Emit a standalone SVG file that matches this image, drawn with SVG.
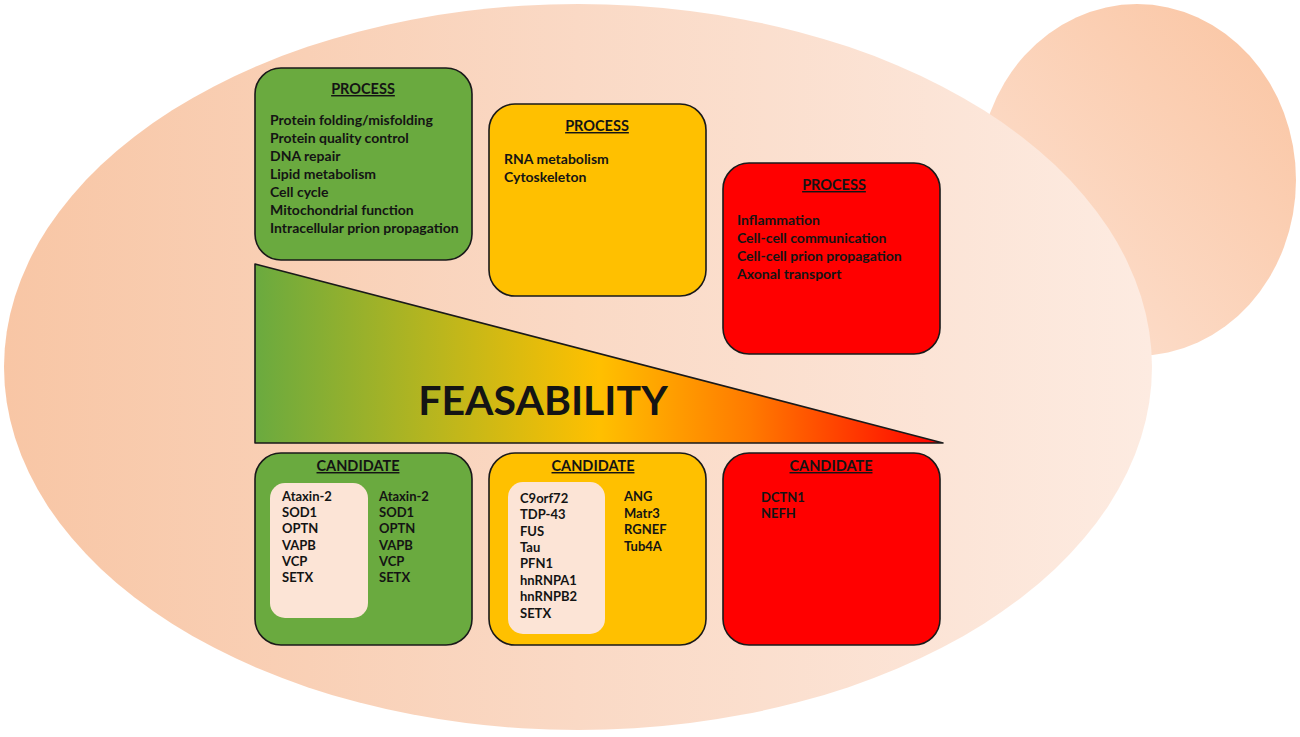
<svg xmlns="http://www.w3.org/2000/svg" width="1300" height="737" viewBox="0 0 1300 737">
<defs>
<linearGradient id="gEll" x1="0" y1="0" x2="1" y2="0">
<stop offset="0" stop-color="#F8C6A5"/>
<stop offset="0.5" stop-color="#FAD9C5"/>
<stop offset="1" stop-color="#FDEBE1"/>
</linearGradient>
<linearGradient id="gCirc" x1="1" y1="0" x2="0" y2="1">
<stop offset="0" stop-color="#FAC4A1"/>
<stop offset="1" stop-color="#FDE3D4"/>
</linearGradient>
<linearGradient id="gTri" x1="255" y1="0" x2="943" y2="0" gradientUnits="userSpaceOnUse">
<stop offset="0" stop-color="#6AAA3F"/>
<stop offset="0.5" stop-color="#FFC000"/>
<stop offset="0.72" stop-color="#FF7A00"/>
<stop offset="1" stop-color="#FF0000"/>
</linearGradient>
<style>
.box{stroke:#1a1a1a;stroke-width:1.6}
.g{fill:#6AAA3F}.y{fill:#FFC000}.r{fill:#FF0000}
.inner{fill:#FCE4D6}
text{font-family:Lato,"Open Sans","Liberation Sans",sans-serif;font-weight:bold;fill:#141414}
.hd{font-size:14.5px;text-decoration:underline;text-anchor:middle}
.ln{font-size:14px}
.cd{font-size:13px}
</style>
</defs>
<g id="background">
<ellipse cx="1137" cy="180" rx="159" ry="176" fill="url(#gCirc)"/>
<ellipse cx="578" cy="367" rx="574" ry="363" fill="url(#gEll)"/>
</g>
<g id="feasability">
<polygon points="255,264 255,443 943,443" fill="url(#gTri)" stroke="#1a1a1a" stroke-width="1.6" stroke-linejoin="round"/>
<text x="543" y="415" text-anchor="middle" style="font-size:41px">FEASABILITY</text>
</g>
<g id="process-green">
<rect class="box g" x="255" y="68" width="217" height="192" rx="26"/>
<text class="hd" x="363" y="94">PROCESS</text>
<text class="ln" x="270" y="125">Protein folding/misfolding</text>
<text class="ln" x="270" y="143">Protein quality control</text>
<text class="ln" x="270" y="161">DNA repair</text>
<text class="ln" x="270" y="179">Lipid metabolism</text>
<text class="ln" x="270" y="197">Cell cycle</text>
<text class="ln" x="270" y="215">Mitochondrial function</text>
<text class="ln" x="270" y="233">Intracellular prion propagation</text>
</g>
<g id="process-yellow">
<rect class="box y" x="489" y="104" width="217" height="192" rx="26"/>
<text class="hd" x="597" y="131">PROCESS</text>
<text class="ln" x="504" y="164">RNA metabolism</text>
<text class="ln" x="504" y="182">Cytoskeleton</text>
</g>
<g id="process-red">
<rect class="box r" x="723" y="163" width="217" height="191" rx="26"/>
<text class="hd" x="834" y="190">PROCESS</text>
<text class="ln" x="737" y="225">Inflammation</text>
<text class="ln" x="737" y="243">Cell-cell communication</text>
<text class="ln" x="737" y="261">Cell-cell prion propagation</text>
<text class="ln" x="737" y="279">Axonal transport</text>
</g>
<g id="candidate-green">
<rect class="box g" x="255" y="453" width="217" height="192" rx="26"/>
<text class="hd" x="358" y="471">CANDIDATE</text>
<rect class="inner" x="270" y="483" width="98" height="135" rx="15"/>
<text class="cd" x="282" y="501">Ataxin-2</text>
<text class="cd" x="282" y="517">SOD1</text>
<text class="cd" x="282" y="533">OPTN</text>
<text class="cd" x="282" y="550">VAPB</text>
<text class="cd" x="282" y="566">VCP</text>
<text class="cd" x="282" y="582">SETX</text>
<text class="cd" x="379" y="501">Ataxin-2</text>
<text class="cd" x="379" y="517">SOD1</text>
<text class="cd" x="379" y="533">OPTN</text>
<text class="cd" x="379" y="550">VAPB</text>
<text class="cd" x="379" y="566">VCP</text>
<text class="cd" x="379" y="582">SETX</text>
</g>
<g id="candidate-yellow">
<rect class="box y" x="489" y="453" width="217" height="192" rx="26"/>
<text class="hd" x="593" y="471">CANDIDATE</text>
<rect class="inner" x="508" y="482" width="97" height="152" rx="15"/>
<text class="cd" x="520" y="503">C9orf72</text>
<text class="cd" x="520" y="519">TDP-43</text>
<text class="cd" x="520" y="536">FUS</text>
<text class="cd" x="520" y="552">Tau</text>
<text class="cd" x="520" y="568">PFN1</text>
<text class="cd" x="520" y="585">hnRNPA1</text>
<text class="cd" x="520" y="601">hnRNPB2</text>
<text class="cd" x="520" y="618">SETX</text>
<text class="cd" x="624" y="501">ANG</text>
<text class="cd" x="624" y="518">Matr3</text>
<text class="cd" x="624" y="534">RGNEF</text>
<text class="cd" x="624" y="551">Tub4A</text>
</g>
<g id="candidate-red">
<rect class="box r" x="723" y="453" width="217" height="192" rx="26"/>
<text class="hd" x="831" y="471">CANDIDATE</text>
<text class="cd" x="761" y="502">DCTN1</text>
<text class="cd" x="761" y="518">NEFH</text>
</g>
<g id="connectors"/>
</svg>
